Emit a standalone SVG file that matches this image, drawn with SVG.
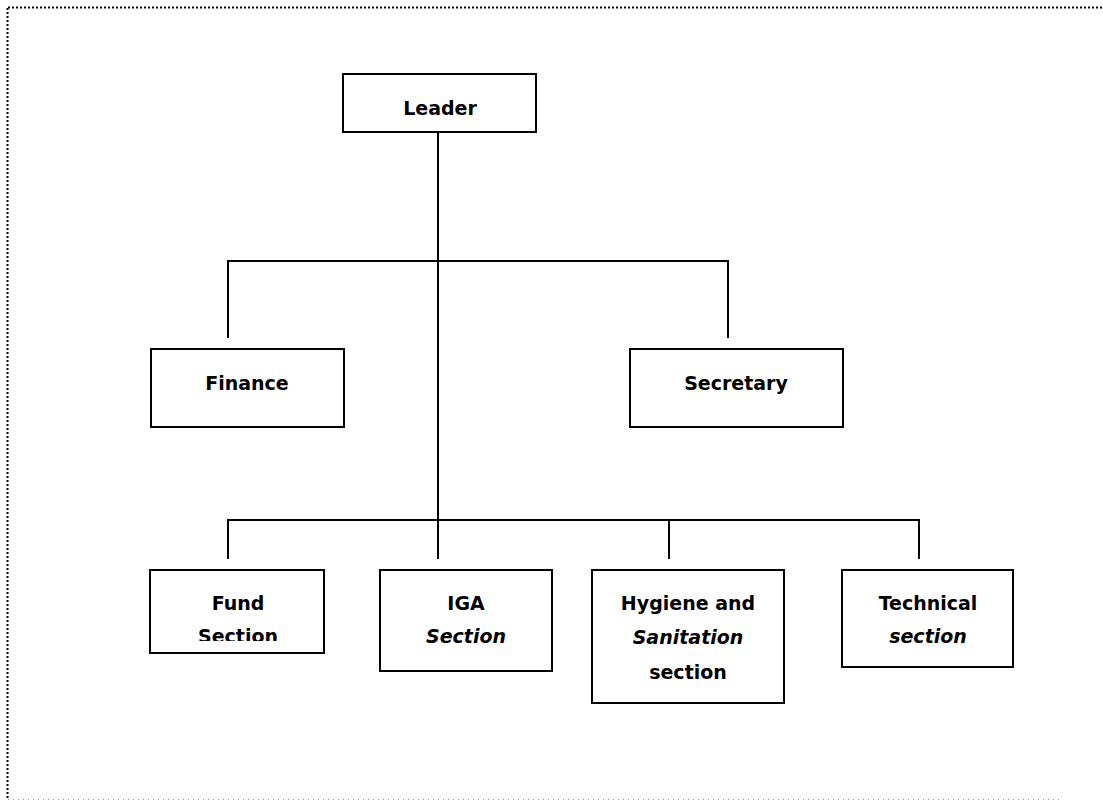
<svg xmlns="http://www.w3.org/2000/svg" width="1103" height="801" viewBox="0 0 1103 801">
<style>
.box{fill:#fff;stroke:#000;stroke-width:2}
.con{fill:none;stroke:#000;stroke-width:2}
.t{font-family:"DejaVu Sans","Liberation Sans",sans-serif;font-weight:bold;font-size:19px;fill:#000;text-anchor:middle}
.i{font-style:italic}
</style>
<defs>
<clipPath id="fundclip"><rect x="150" y="570" width="175" height="71"/></clipPath>
</defs>
<rect width="1103" height="801" fill="#fff"/>
<g id="border" fill="none">
<path d="M8 7.5H1103M7.5 8V800" stroke="#000" stroke-width="2" stroke-dasharray="2 2"/>
<path d="M8 799.5H1060" stroke="#999" stroke-width="1" stroke-dasharray="1 4"/>
</g>
<g id="connectors">
<path class="con" d="M438 132V520"/>
<path class="con" d="M228 338V261H728V338"/>
<path class="con" d="M228 559V520H919V559M438 520V559M669 520V559"/>
</g>
<g id="leader"><rect class="box" x="343" y="74" width="193" height="58"/><text class="t" x="440" y="115">Leader</text></g>
<g id="finance"><rect class="box" x="151" y="349" width="193" height="78"/><text class="t" x="247" y="390">Finance</text></g>
<g id="secretary"><rect class="box" x="630" y="349" width="213" height="78"/><text class="t" x="736" y="390">Secretary</text></g>
<g id="fund"><rect class="box" x="150" y="570" width="174" height="83"/><text class="t" x="238" y="610">Fund</text><text class="t" x="238" y="643" clip-path="url(#fundclip)">Section</text></g>
<g id="iga"><rect class="box" x="380" y="570" width="172" height="101"/><text class="t" x="466" y="610">IGA</text><text class="t i" x="466" y="643">Section</text></g>
<g id="hygiene"><rect class="box" x="592" y="570" width="192" height="133"/><text class="t" x="688" y="610">Hygiene and</text><text class="t i" x="688" y="644">Sanitation</text><text class="t" x="688" y="679">section</text></g>
<g id="technical"><rect class="box" x="842" y="570" width="171" height="97"/><text class="t" x="928" y="610">Technical</text><text class="t i" x="928" y="643">section</text></g>
</svg>
